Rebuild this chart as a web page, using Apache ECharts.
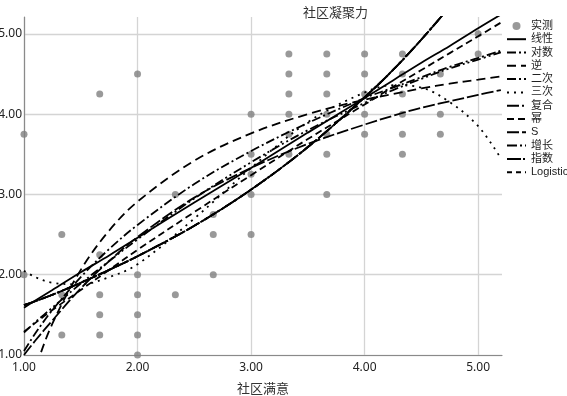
<!DOCTYPE html>
<html>
<head>
<meta charset="utf-8">
<script src="https://cdn.jsdelivr.net/npm/echarts@6/dist/echarts.min.js"></script>
<style>
  html, body { margin: 0; padding: 0; background: #fff; }
  #chart { width: 567px; height: 396px; }
</style>
</head>
<body>
<div id="chart"></div>
<script>
// 实测 points (社区满意, 社区凝聚力)
const obsX = [1, 1,
  1.333, 1.333, 1.333,
  1.667, 1.667, 1.667, 1.667, 1.667,
  2, 2, 2, 2, 2, 2,
  2.333, 2.333,
  2.667, 2.667, 2.667,
  3, 3, 3, 3, 3,
  3.333, 3.333, 3.333, 3.333, 3.333, 3.333,
  3.667, 3.667, 3.667, 3.667, 3.667, 3.667, 3.667,
  4, 4, 4, 4, 4,
  4.333, 4.333, 4.333, 4.333, 4.333, 4.333,
  4.667, 4.667, 4.667,
  5, 5];
const obsY = [3.75, 2.0,
  2.5, 1.75, 1.25,
  4.25, 2.25, 1.75, 1.5, 1.25,
  4.5, 2.0, 1.75, 1.5, 1.25, 1.0,
  3.0, 1.75,
  2.75, 2.5, 2.0,
  4.0, 3.5, 3.25, 3.0, 2.5,
  4.75, 4.5, 4.25, 4.0, 3.75, 3.5,
  4.75, 4.5, 4.25, 4.0, 3.75, 3.5, 3.0,
  4.75, 4.5, 4.25, 4.0, 3.75,
  4.75, 4.5, 4.25, 4.0, 3.75, 3.5,
  4.5, 4.0, 3.75,
  5.0, 4.75];

// fitted curves at these x positions
const fitX = [1.0, 1.1, 1.25, 1.5, 1.75, 2.0, 2.5, 3.0, 3.5, 4.0, 4.25, 4.5, 4.75, 5.0, 5.2];
const linearFit = [1.59, 1.68, 1.81, 2.03, 2.24, 2.46, 2.90, 3.33, 3.77, 4.20, 4.42, 4.64, 4.85, 5.07, 5.24];
const logFit = [1.05, 1.27, 1.56, 1.97, 2.32, 2.62, 3.13, 3.54, 3.89, 4.20, 4.33, 4.46, 4.59, 4.70, 4.79];
const inverseFit = [0.37, 0.83, 1.39, 2.06, 2.55, 2.91, 3.42, 3.76, 4.00, 4.18, 4.25, 4.32, 4.38, 4.43, 4.47];
const quadFit = [1.28, 1.41, 1.59, 1.89, 2.17, 2.44, 2.95, 3.40, 3.80, 4.14, 4.30, 4.44, 4.57, 4.68, 4.77];
const cubicFit = [2.05, 1.97, 1.90, 1.88, 1.97, 2.13, 2.70, 3.33, 3.90, 4.27, 4.36, 4.33, 4.15, 3.85, 3.45];
// compound, growth, exponential and logistic all land on the same curve
const expFit = [1.62, 1.67, 1.75, 1.90, 2.06, 2.23, 2.61, 3.06, 3.59, 4.21, 4.55, 4.93, 5.34, 5.78, 6.16];
const powerFit = [1.29, 1.40, 1.56, 1.81, 2.06, 2.31, 2.78, 3.24, 3.69, 4.12, 4.34, 4.55, 4.76, 4.97, 5.14];
const sFit = [1.00, 1.18, 1.43, 1.83, 2.17, 2.47, 2.96, 3.33, 3.63, 3.87, 3.98, 4.08, 4.16, 4.24, 4.30];

const axisTicks = [1, 2, 3, 4, 5];

const pairs = (ys) => fitX.map((x, i) => [x, ys[i]]);

// name, values, dash pattern
const curves = [
  ["线性", linearFit, "solid"],
  ["对数", logFit, [9, 3, 2, 3]],
  ["逆", inverseFit, [9, 5]],
  ["二次", quadFit, [9, 3, 2, 3, 2, 3]],
  ["三次", cubicFit, [2, 5]],
  ["复合", expFit, [12, 3, 2, 3]],
  ["幂", powerFit, [7, 4]],
  ["S", sFit, [12, 3]],
  ["增长", expFit, [10, 3, 2, 3, 2, 3]],
  ["指数", expFit, [14, 2, 2, 2]],
  ["Logistic", expFit, [5, 4]]
];

const chart = echarts.init(document.getElementById("chart"));

const tickLabel = (v) => axisTicks.includes(v) ? v.toFixed(2) : "";

const series = [{
  name: "实测",
  type: "scatter",
  data: obsX.map((x, i) => [x, obsY[i]]),
  symbolSize: 7,
  itemStyle: { color: "#808080" },
  z: 1
}];
curves.forEach(([name, ys, dash]) => {
  series.push({
    name: name,
    type: "line",
    data: pairs(ys),
    smooth: 0.35,
    symbol: "none",
    showSymbol: false,
    clip: true,
    lineStyle: { color: "#000", width: 1.8, type: dash },
    itemStyle: { color: "#000" },
    z: 2
  });
});

const option = {
  animation: false,
  backgroundColor: "#fff",
  title: {
    text: "社区凝聚力",
    left: 298,
    top: 1,
    textStyle: { fontFamily: "Noto Sans CJK SC", fontSize: 13, fontWeight: "normal", color: "#333" }
  },
  legend: {
    orient: "vertical",
    left: 501,
    top: 15,
    itemWidth: 19,
    itemHeight: 8,
    itemGap: 1.5,
    // hide the marker that line series put in the middle of their icon
    itemStyle: { color: "rgba(0,0,0,0)", borderWidth: 0 },
    textStyle: { fontFamily: "Liberation Sans, Noto Sans CJK SC", fontSize: 11, color: "#222", lineHeight: 11.8 },
    data: [{ name: "实测", icon: "circle", itemStyle: { color: "#808080" } }].concat(curves.map(c => c[0]))
  },
  grid: { left: 24, right: 65, top: 17, bottom: 41, outerBoundsMode: "none" },
  xAxis: {
    type: "value",
    min: 1,
    max: 5.21,
    interval: 1,
    name: "社区满意",
    nameLocation: "middle",
    nameGap: 27,
    nameTextStyle: { fontFamily: "Noto Sans CJK SC", fontSize: 13, color: "#333" },
    axisLine: { show: true, onZero: false, lineStyle: { color: "#8a8a8a", width: 1.2 } },
    axisTick: { show: false },
    axisLabel: { formatter: tickLabel, fontFamily: "Noto Sans", fontSize: 12, color: "#222", margin: 7 },
    splitLine: { show: true, showMaxLine: false, lineStyle: { color: "#d4d4d4", width: 1.3 } }
  },
  yAxis: {
    type: "value",
    min: 1,
    max: 5.21,
    interval: 1,
    axisLine: { show: true, onZero: false, lineStyle: { color: "#8a8a8a", width: 1.2 } },
    axisTick: { show: false },
    axisLabel: { formatter: tickLabel, fontFamily: "Noto Sans", fontSize: 12, color: "#222", margin: 2 },
    splitLine: { show: true, showMaxLine: false, lineStyle: { color: "#d4d4d4", width: 1.3 } }
  },
  series: series
};

chart.setOption(option);
</script>
</body>
</html>
